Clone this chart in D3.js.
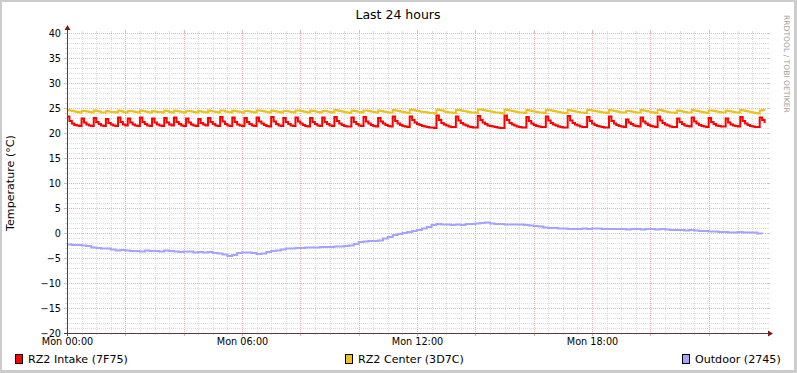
<!DOCTYPE html>
<html><head><meta charset="utf-8">
<script src="https://cdn.jsdelivr.net/npm/d3@7"></script>
<style>
html,body{margin:0;padding:0;background:#fff;}
svg{display:block;}
text{font-family:"DejaVu Sans",sans-serif;}
</style></head>
<body>
<script>
// ---------- data ----------
const title = "Last 24 hours";
const yTitle = "Temperature (°C)";
const watermark = "RRDTOOL / TOBI OETIKER";
const yTicks = [-20,-15,-10,-5,0,5,10,15,20,25,30,35,40];
const xTickHours = [0,6,12,18];
const xTickLabels = ["Mon 00:00","Mon 06:00","Mon 12:00","Mon 18:00"];
const seriesNames = ["RZ2 Intake (7F75)","RZ2 Center (3D7C)","Outdoor (2745)"];
const seriesColors = ["#ff0000","#ecc21f","#a4a4ff"];
const stepRedYellowMin = 5;
const stepBlueMin = 10;

// RZ2 Intake (5 min samples)
const intake = [
23.3,22.4,21.9,21.6,21.5,21.4,
22.9,22.1,21.7,21.5,21.4,
23.0,22.2,21.8,21.5,21.4,
22.8,22.0,21.7,21.5,21.4,
23.1,22.2,21.7,21.5,
22.9,22.1,21.7,21.5,21.4,
23.1,22.2,21.8,21.5,21.4,
22.9,22.1,21.7,21.5,21.4,
23.0,22.1,21.7,21.5,
23.1,22.2,21.8,21.5,21.4,
22.9,22.1,21.7,21.5,21.4,
22.8,22.0,21.7,21.5,
23.0,22.2,21.8,21.5,21.4,
23.2,22.3,21.8,21.5,21.4,
23.1,22.2,21.7,21.5,21.4,
23.0,22.2,21.8,21.5,21.4,
23.1,22.3,21.9,21.6,21.4,21.3,
23.2,22.3,21.8,21.5,21.4,
23.0,22.2,21.8,21.5,21.4,
23.1,22.3,21.9,21.6,21.4,21.3,
23.0,22.2,21.8,21.5,21.4,
23.1,22.2,21.8,21.5,21.4,
23.2,22.4,21.9,21.6,21.4,21.3,21.3,
23.1,22.2,21.8,21.5,21.4,
23.2,22.3,21.9,21.6,21.4,21.3,
23.0,22.3,21.9,21.6,21.4,21.3,
23.3,22.4,21.9,21.6,21.4,21.3,21.2,
23.3,22.6,22.1,21.8,21.6,21.4,21.3,21.2,21.1,21.1,21.0,
23.5,22.6,22.0,21.7,21.5,21.3,21.2,21.2,
23.3,22.5,22.0,21.7,21.5,21.3,21.2,21.1,21.1,
23.4,22.6,22.1,21.8,21.5,21.4,21.3,21.2,21.1,21.0,21.0,
23.5,22.6,22.0,21.7,21.5,21.3,21.2,21.1,21.1,
23.2,22.4,21.9,21.6,21.4,21.3,21.2,21.2,
23.3,22.5,22.0,21.7,21.5,21.3,21.2,21.1,21.1,
23.4,22.5,22.0,21.7,21.5,21.3,21.2,21.2,
23.2,22.4,21.9,21.6,21.4,21.3,21.2,21.1,21.1,
23.3,22.4,21.9,21.6,21.4,21.3,21.2,
22.7,22.1,21.8,21.5,21.4,21.3,
23.1,22.3,21.9,21.6,21.4,21.3,21.2,
23.3,22.5,22.0,21.7,21.5,21.3,21.2,21.2,
22.9,22.2,21.8,21.5,21.4,21.3,
23.1,22.3,21.9,21.6,21.4,21.3,21.2,
23.0,22.2,21.8,21.5,21.4,21.3,21.3,
22.9,22.1,21.7,21.5,21.4,21.3,
23.2,22.4,21.9,21.6,21.4,21.3,21.2,21.2,
23.1,22.6,22.0
];

// RZ2 Center (5 min samples)
const center = [
24.6,24.5,24.4,24.3,24.2,24.1,
24.4,24.4,24.3,24.2,24.1,
24.5,24.4,24.3,24.1,24.1,
24.4,24.3,24.2,24.2,24.1,
24.5,24.4,24.2,24.1,
24.4,24.4,24.3,24.2,24.1,
24.5,24.4,24.3,24.2,24.1,
24.4,24.3,24.2,24.2,24.1,
24.5,24.4,24.2,24.1,
24.5,24.4,24.3,24.2,24.1,
24.4,24.4,24.3,24.2,24.1,
24.4,24.3,24.2,24.1,
24.5,24.4,24.3,24.2,24.1,
24.5,24.5,24.3,24.2,24.1,
24.5,24.4,24.3,24.2,24.1,
24.4,24.4,24.3,24.2,24.1,
24.5,24.5,24.4,24.3,24.2,24.1,
24.5,24.4,24.3,24.2,24.1,
24.4,24.4,24.3,24.2,24.1,
24.5,24.5,24.4,24.3,24.2,24.1,
24.5,24.4,24.3,24.2,24.1,
24.4,24.4,24.3,24.2,24.1,
24.6,24.5,24.4,24.3,24.2,24.1,24.0,
24.5,24.4,24.3,24.2,24.1,
24.5,24.5,24.4,24.3,24.2,24.1,
24.5,24.4,24.3,24.2,24.1,24.1,
24.6,24.5,24.4,24.3,24.2,24.1,24.0,
24.7,24.6,24.5,24.4,24.3,24.2,24.2,24.1,24.0,24.0,23.9,
24.7,24.6,24.5,24.3,24.2,24.1,24.1,24.0,
24.6,24.6,24.5,24.4,24.3,24.2,24.1,24.1,24.0,
24.7,24.7,24.6,24.5,24.4,24.3,24.2,24.1,24.1,24.0,23.9,
24.7,24.6,24.5,24.4,24.3,24.2,24.1,24.1,24.0,
24.6,24.5,24.4,24.3,24.2,24.1,24.1,24.0,
24.6,24.6,24.5,24.4,24.3,24.2,24.1,24.0,24.0,
24.6,24.5,24.4,24.3,24.2,24.1,24.1,24.0,
24.6,24.6,24.5,24.4,24.3,24.2,24.1,24.1,24.0,
24.6,24.5,24.4,24.3,24.2,24.1,24.1,
24.4,24.4,24.3,24.2,24.1,24.1,
24.6,24.5,24.4,24.3,24.2,24.1,24.0,
24.6,24.6,24.4,24.3,24.2,24.1,24.1,24.0,
24.5,24.4,24.3,24.2,24.1,24.1,
24.6,24.5,24.4,24.3,24.2,24.1,24.0,
24.5,24.5,24.4,24.3,24.2,24.1,24.1,
24.5,24.4,24.3,24.2,24.1,24.1,
24.6,24.5,24.4,24.3,24.2,24.1,24.0,23.9,
24.5,24.6,24.5
];

// Outdoor (10 min samples)
const outdoor = [
-2.3,-2.4,-2.4,-2.5,-2.6,-2.9,-3.0,-3.1,-3.1,-3.3,
-3.5,-3.4,-3.5,-3.6,-3.6,-3.7,-3.5,-3.6,-3.6,-3.7,
-3.5,-3.6,-3.7,-3.8,-3.7,-3.7,-3.9,-3.8,-3.9,-3.8,
-4.0,-4.1,-4.3,-4.6,-4.4,-4.0,-3.9,-3.9,-4.0,-4.2,
-4.1,-3.8,-3.6,-3.5,-3.3,-3.1,-3.1,-3.0,-3.0,-2.9,
-2.9,-2.9,-2.8,-2.8,-2.8,-2.7,-2.7,-2.6,-2.5,-2.2,
-1.8,-1.7,-1.6,-1.6,-1.5,-1.1,-0.8,-0.4,-0.2,0.0,
0.2,0.4,0.6,0.9,1.2,1.6,1.8,1.7,1.7,1.6,
1.7,1.6,1.8,1.8,1.9,2.0,2.1,1.9,1.8,1.8,
1.7,1.7,1.7,1.7,1.6,1.5,1.4,1.3,1.1,1.0,
1.0,0.9,0.9,0.8,0.8,0.8,0.9,0.8,0.9,0.9,
0.8,0.8,0.8,0.8,0.8,0.7,0.8,0.8,0.7,0.8,
0.8,0.7,0.8,0.7,0.6,0.6,0.6,0.5,0.6,0.5,
0.4,0.4,0.3,0.3,0.2,0.2,0.1,0.1,0.2,0.1,
0.1,0.1,-0.1,-0.2
];

// ---------- layout ----------
const W = 797, H = 373;
const X0 = 67, X1 = 767, Y0 = 333, Y1 = 33;
const start = new Date(2012, 0, 2, 0, 0, 0); // a Monday
const end = new Date(start.getTime() + 24 * 3600 * 1000);

const x = d3.scaleTime().domain([start, end]).range([X0, X1]);
const y = d3.scaleLinear().domain([-20, 40]).range([Y0, Y1]);

const svg = d3.select("body").append("svg").attr("width", W).attr("height", H);

// frame
svg.append("rect").attr("x",0).attr("y",0).attr("width",W).attr("height",H).attr("fill","#cccccc");
svg.append("rect").attr("x",2).attr("y",2).attr("width",W-5).attr("height",H-5).attr("fill","#ffffff");

// grid
const grid = svg.append("g").attr("shape-rendering","crispEdges");
const minorY = d3.range(-20, 41, 1).filter(v => v % 5 !== 0);
const minorT = d3.timeMinute.every(30).range(start, end).filter(t => t.getMinutes() !== 0 || t.getHours() % 2 !== 0);
const majorT = d3.timeHour.every(2).range(start, end);

const minorColor = "#dcdcdc", majorColor = "#eeb0b0";

minorY.forEach(v => {
  const yy = Math.round(y(v)) + 0.5;
  grid.append("line").attr("x1",X0).attr("x2",X1).attr("y1",yy).attr("y2",yy)
    .attr("stroke",minorColor).attr("stroke-dasharray","1,1");
  grid.append("line").attr("x1",X0-2).attr("x2",X0).attr("y1",yy).attr("y2",yy).attr("stroke",minorColor);
  grid.append("line").attr("x1",X1).attr("x2",X1+2).attr("y1",yy).attr("y2",yy).attr("stroke",minorColor);
});
minorT.forEach(t => {
  const xx = Math.round(x(t)) + 0.5;
  grid.append("line").attr("x1",xx).attr("x2",xx).attr("y1",Y1).attr("y2",Y0)
    .attr("stroke",minorColor).attr("stroke-dasharray","1,1");
  grid.append("line").attr("x1",xx).attr("x2",xx).attr("y1",Y0).attr("y2",Y0+2).attr("stroke",minorColor);
  grid.append("line").attr("x1",xx).attr("x2",xx).attr("y1",Y1-2).attr("y2",Y1).attr("stroke",minorColor);
});
yTicks.forEach(v => {
  const yy = Math.round(y(v)) + 0.5;
  grid.append("line").attr("x1",X0).attr("x2",X1).attr("y1",yy).attr("y2",yy)
    .attr("stroke",majorColor).attr("stroke-dasharray","1,1");
  grid.append("line").attr("x1",X0-3).attr("x2",X0).attr("y1",yy).attr("y2",yy).attr("stroke",majorColor);
  grid.append("line").attr("x1",X1).attr("x2",X1+3).attr("y1",yy).attr("y2",yy).attr("stroke",majorColor);
});
majorT.forEach(t => {
  const xx = Math.round(x(t)) + 0.5;
  grid.append("line").attr("x1",xx).attr("x2",xx).attr("y1",Y1).attr("y2",Y0)
    .attr("stroke",majorColor).attr("stroke-dasharray","1,1");
  grid.append("line").attr("x1",xx).attr("x2",xx).attr("y1",Y0).attr("y2",Y0+3).attr("stroke",majorColor);
  grid.append("line").attr("x1",xx).attr("x2",xx).attr("y1",Y1-3).attr("y2",Y1).attr("stroke",majorColor);
});

// y labels
const yAxis = d3.axisLeft(y).tickValues(yTicks).tickSize(0).tickPadding(0).tickFormat(d3.format("d"));
const gy = svg.append("g").attr("transform",`translate(${X0-6},0)`).call(yAxis);
gy.select(".domain").remove();
gy.selectAll("text").attr("font-family","DejaVu Sans").attr("font-size","9.7px").attr("fill","#000");

// x labels
const xTickDates = xTickHours.map(h => new Date(start.getTime() + h * 3600 * 1000));
const xAxis = d3.axisBottom(x).tickValues(xTickDates).tickSize(0).tickPadding(0)
  .tickFormat((d, i) => xTickLabels[i]);
const gx = svg.append("g").attr("transform",`translate(0,${Y0+5})`).call(xAxis);
gx.select(".domain").remove();
gx.selectAll("text").attr("font-family","DejaVu Sans").attr("font-size","9.7px").attr("fill","#000");

// series
svg.append("clipPath").attr("id","plotclip").append("rect")
  .attr("x",X0).attr("y",Y1-5).attr("width",X1-X0+1).attr("height",Y0-Y1+5);

function toPts(arr, stepMin) {
  return arr.map((v, i) => ({t: new Date(start.getTime() + i * stepMin * 60000), v}));
}
const line = d3.line().x(d => x(d.t)).y(d => y(d.v)).curve(d3.curveStepAfter);
const plot = svg.append("g").attr("clip-path","url(#plotclip)");
[[intake, stepRedYellowMin], [center, stepRedYellowMin], [outdoor, stepBlueMin]].forEach((s, k) => {
  plot.append("path").attr("d", line(toPts(s[0], s[1])))
    .attr("fill","none").attr("stroke",seriesColors[k]).attr("stroke-width",2)
    .attr("stroke-linejoin","miter");
});

// axes lines + arrows
const axisColor = "#5a3a3a", arrowColor = "#7a1c1c";
svg.append("line").attr("x1",X0+0.5).attr("x2",X0+0.5).attr("y1",Y0+3).attr("y2",Y1-5)
  .attr("stroke",axisColor).attr("shape-rendering","crispEdges");
svg.append("line").attr("x1",X0-3).attr("x2",X1+3).attr("y1",Y0+0.5).attr("y2",Y0+0.5)
  .attr("stroke",axisColor).attr("shape-rendering","crispEdges");
svg.append("path").attr("d",`M${X0-2.5},${Y1-3} L${X0+3.5},${Y1-3} L${X0+0.5},${Y1-8} Z`).attr("fill",arrowColor);
svg.append("path").attr("d",`M${X1+1},${Y0-2.5} L${X1+1},${Y0+3.5} L${X1+6},${Y0+0.5} Z`).attr("fill",arrowColor);

// title
svg.append("text").attr("x",398).attr("y",18.5).attr("text-anchor","middle")
  .attr("font-size","12.5px").attr("fill","#000").text(title);

// y title
svg.append("text").attr("transform",`translate(14,${(Y0+Y1)/2}) rotate(-90)`)
  .attr("text-anchor","middle").attr("font-size","11.1px").attr("fill","#000").text(yTitle);

// watermark
svg.append("text").attr("transform","translate(784,15) rotate(90)")
  .attr("font-size","7.6px").attr("fill","#a0a0a0").text(watermark);

// legend
const legendX = [15, 345, 682];
seriesNames.forEach((name, k) => {
  svg.append("rect").attr("x",legendX[k]+0.5).attr("y",354.5).attr("width",7).attr("height",9)
    .attr("fill",seriesColors[k]).attr("stroke","#000").attr("stroke-width",1);
  svg.append("text").attr("x",legendX[k]+13).attr("y",363).attr("font-size","11.1px")
    .attr("fill","#000").text(name);
});
</script>
</body></html>
